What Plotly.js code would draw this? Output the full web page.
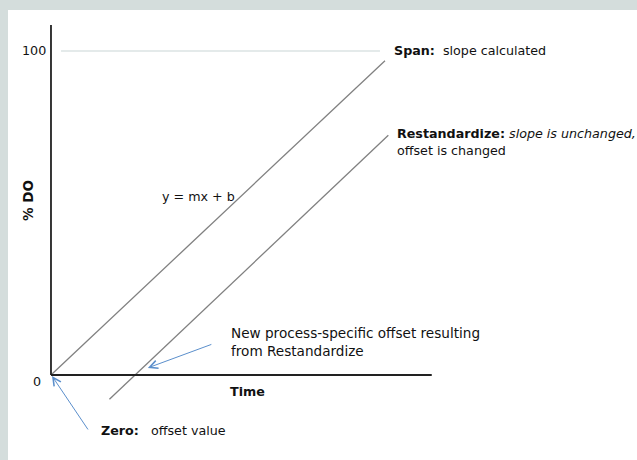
<!DOCTYPE html>
<html>
<head>
<meta charset="utf-8">
<script src="https://cdn.plot.ly/plotly-3.0.1.min.js"></script>
<style>html,body{margin:0;padding:0;background:#d4dddc;}#chart{width:637px;height:460px;}</style>
</head>
<body>
<div id="chart"></div>
<script>
// Data (time in arbitrary units, % DO)
const spanX = [0, 100];
const spanY = [0, 97];
const restdX = [17.5, 101];
const restdY = [-7.5, 74];
const yTickVals = [0, 100];
const yTickText = ['0', '100'];
const axisTop = 108;
const axisRight = 114;

const font = 'DejaVu Sans, Verdana, sans-serif';
const fs = 12.7;

const traces = [
  {x: spanX, y: spanY, mode: 'lines', line: {color: '#808080', width: 1.3}, hoverinfo: 'skip'},
  {x: restdX, y: restdY, mode: 'lines', line: {color: '#808080', width: 1.3}, hoverinfo: 'skip'}
];

const shapes = [
  {type: 'line', xref: 'x', yref: 'y', x0: 3, x1: 98.5, y0: yTickVals[1], y1: yTickVals[1], line: {color: '#c9d6d6', width: 1.2}, layer: 'below'},
  {type: 'line', xref: 'x', yref: 'y', x0: 0, x1: 0, y0: 0, y1: axisTop, line: {color: '#222', width: 1.8}},
  {type: 'line', xref: 'x', yref: 'y', x0: 0, x1: axisRight, y0: 0, y1: 0, line: {color: '#222', width: 1.8}}
];

const blue = '#5b8fcc';
const ann = [
  {x: 0, y: yTickVals[1], text: yTickText[1], xanchor: 'right', xshift: -3, showarrow: false},
  {x: 0, y: yTickVals[0], text: yTickText[0], xanchor: 'right', xshift: -8, yshift: -6, showarrow: false},
  {x: 0, y: 54, text: '<b>% DO</b>', textangle: -90, xshift: -23, showarrow: false, size: 13.5},
  {x: 53, y: 0, text: '<b>Time</b>', xanchor: 'left', yshift: -16, showarrow: false},
  {x: 102, y: 100, text: '<b>Span:</b>  slope calculated', xanchor: 'left', showarrow: false},
  {x: 103, y: 75, text: '<b>Restandardize:</b> <i>slope is unchanged,</i><br>offset is changed', xanchor: 'left', align: 'left', yshift: -10, showarrow: false},
  {x: 32.5, y: 55, text: 'y = mx + b', xanchor: 'left', showarrow: false},
  {x: 53.3, y: 10.5, text: 'New process-specific offset resulting<br>from Restandardize', xanchor: 'left', align: 'left', yshift: -1, showarrow: false, size: 13.6},
  {x: 14.5, y: -17, text: '<b>Zero:</b>   offset value', xanchor: 'left', showarrow: false},
  {x: 0.3, y: -0.3, ax: 37, ay: 55, text: '', showarrow: true, arrowhead: 5, arrowsize: 1.6, arrowwidth: 1, arrowcolor: blue, standoff: 0},
  {x: 29, y: 2.2, ax: 65, ay: -24, text: '', showarrow: true, arrowhead: 5, arrowsize: 1.6, arrowwidth: 1, arrowcolor: blue, standoff: 0}
];
ann.forEach(a => {
  a.xref = 'x'; a.yref = 'y';
  a.font = {family: font, size: a.size || fs, color: '#111'};
  delete a.size;
});

const layout = {
  width: 637, height: 460,
  margin: {l: 8, r: 0, t: 10, b: 0},
  paper_bgcolor: '#d4dddc',
  plot_bgcolor: '#ffffff',
  showlegend: false,
  xaxis: {range: [-12.87, 175.45], visible: false, fixedrange: true},
  yaxis: {range: [-26.23, 112.65], visible: false, fixedrange: true},
  shapes: shapes,
  annotations: ann,
  font: {family: font, size: fs}
};

Plotly.newPlot('chart', traces, layout, {displayModeBar: false, staticPlot: true});
</script>
</body>
</html>
